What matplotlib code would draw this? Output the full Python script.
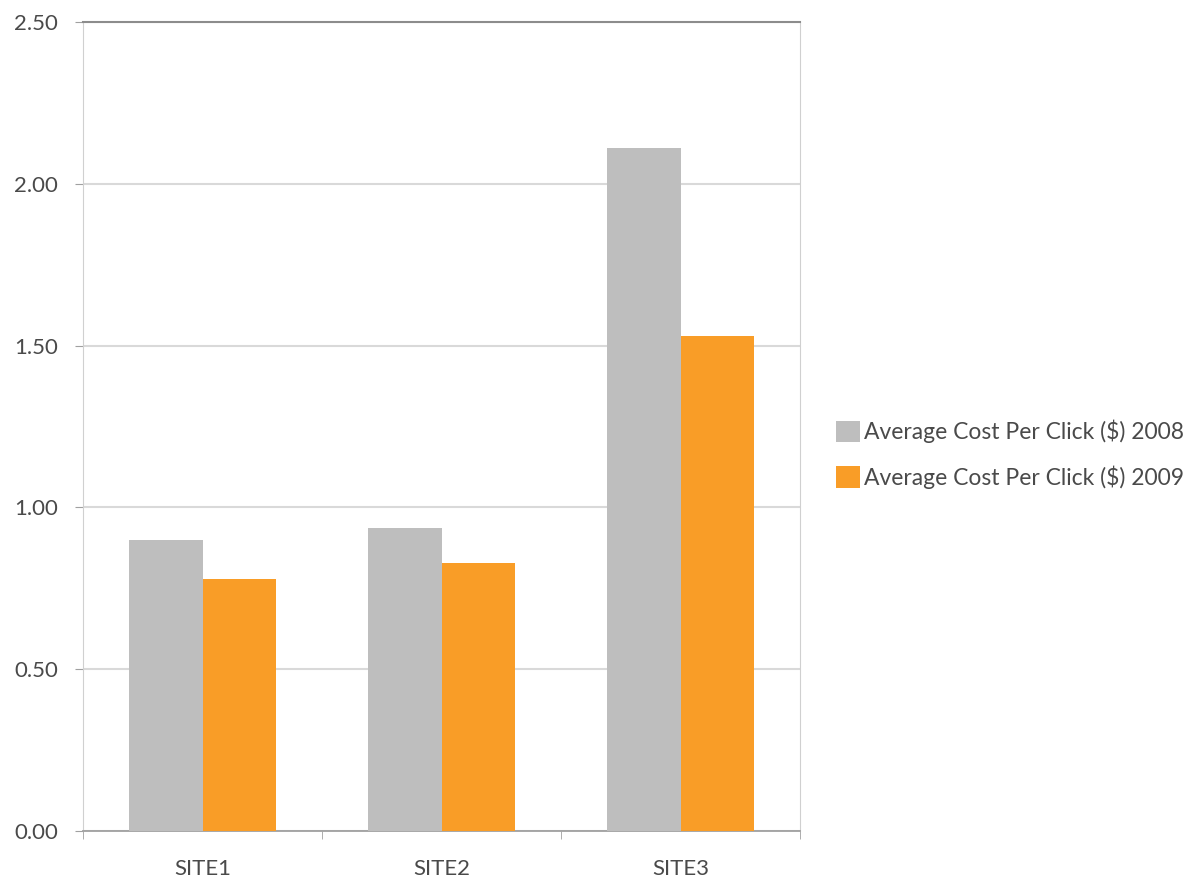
"""
Average cost per click by site, 2008 vs 2009
"""

import matplotlib
matplotlib.use('Agg')
import matplotlib.pyplot as plt
import numpy as np

# Data
sites = ['SITE1', 'SITE2', 'SITE3']
cpc_2008 = [0.90, 0.935, 2.11]
cpc_2009 = [0.78, 0.827, 1.53]
series_labels = ['Average Cost Per Click ($) 2008', 'Average Cost Per Click ($) 2009']
y_ticks = [0.0, 0.5, 1.0, 1.5, 2.0, 2.5]

plt.rcParams['font.family'] = ['Lato', 'DejaVu Sans']
text_color = '#4a4a4a'

fig = plt.figure(figsize=(11.97, 8.84), dpi=100)
ax = fig.add_axes([0.0695, 0.06, 0.599, 0.915])

x = np.arange(len(sites))
width = 0.307
ax.bar(x - width / 2, cpc_2008, width, color='#bebebe', label=series_labels[0], zorder=3)
ax.bar(x + width / 2, cpc_2009, width, color='#f99d27', label=series_labels[1], zorder=3)

ax.set_xlim(-0.5, len(sites) - 0.5)
ax.set_ylim(0, 2.5)
ax.set_yticks(y_ticks)
ax.set_yticklabels(['%.2f' % v for v in y_ticks])
ax.set_xticks(x)
ax.set_xticklabels(sites)

# category boundary ticks on x axis, like the original
ax.set_xticks(np.arange(-0.5, len(sites), 1.0), minor=True)
ax.tick_params(axis='x', which='major', length=0, pad=20, labelsize=16, labelcolor=text_color)
ax.tick_params(axis='x', which='minor', length=6, color='#a0a0a0', direction='out')
ax.tick_params(axis='y', length=6, color='#a0a0a0', pad=12, labelsize=16, labelcolor=text_color)

ax.yaxis.grid(True, color='#d9d9d9', linewidth=1.5, zorder=0)
ax.spines['top'].set_color('#8c8c8c')
ax.spines['top'].set_linewidth(1.5)
ax.spines['left'].set_color('#d0d0d0')
ax.spines['right'].set_color('#d0d0d0')
ax.spines['bottom'].set_color('#a0a0a0')
ax.spines['bottom'].set_linewidth(1.3)

leg = fig.legend(loc='center left', bbox_to_anchor=(0.6984, 0.486), frameon=False,
                 fontsize=16.5, handlelength=1.05, handleheight=1.05,
                 handletextpad=0.18, labelspacing=0.95, borderpad=0, borderaxespad=0)
for t in leg.get_texts():
    t.set_color(text_color)

fig.savefig('out.png', dpi=100)
